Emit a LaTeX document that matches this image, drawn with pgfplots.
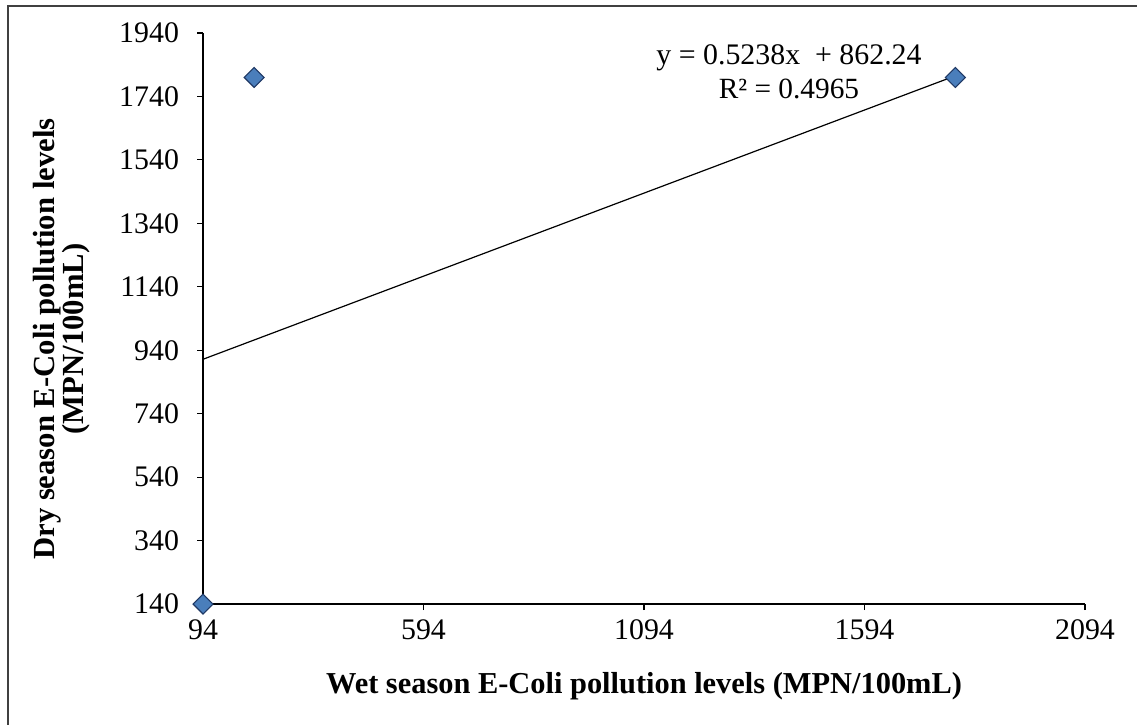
\documentclass[border=0pt]{standalone}
\usepackage{pgfplots}
\pgfplotsset{compat=1.18}
\usepackage{fontspec}
\setmainfont{Liberation Serif}
\definecolor{mfill}{RGB}{74,126,187}
\definecolor{mdraw}{RGB}{31,56,100}
\definecolor{frame}{RGB}{64,64,64}
\begin{document}
\begin{tikzpicture}
\useasboundingbox (0,0) rectangle (852.75pt,-543pt);
\draw[frame, line width=1.5pt] (6pt,-545pt) -- (6pt,-4.5pt) -- (855pt,-4.5pt);
\begin{axis}[
  at={(152.25pt,-453pt)}, anchor=south west,
  scale only axis, width=661.5pt, height=428.25pt,
  xmin=94, xmax=2094, ymin=140, ymax=1940,
  axis x line*=bottom, axis y line*=left,
  axis line style={-, black, line width=0.9pt},
  xtick={94,594,1094,1594,2094},
  ytick={140,340,540,740,940,1140,1340,1540,1740,1940},
  tick align=outside, major tick length=4.5pt,
  tick style={black, line width=0.9pt},
  /pgf/number format/1000 sep={},
  /pgf/number format/assume math mode=true,
  ticklabel style={font=\fontsize{22.4}{26}\selectfont},
  xticklabel style={yshift=-4pt},
  yticklabel style={xshift=-10pt},
  clip=false,
  xlabel={Wet season E-Coli pollution levels (MPN/100mL)},
  xlabel style={at={(rel axis cs:0.5,-0.1436)}, anchor=center, font=\bfseries\fontsize{22.8}{26}\selectfont},
  ylabel={Dry season E-Coli pollution levels\\(MPN/100mL)},
  ylabel style={at={(rel axis cs:-0.160,0.464)}, anchor=center, rotate=0, align=center, font=\bfseries\fontsize{23}{19.5}\selectfont},
]
\addplot[only marks, mark=square*, mark size=5.3pt, mark options={rotate=45, fill=mfill, draw=mdraw, line width=0.8pt}]
  coordinates {(94,140) (210,1800) (1800,1800)};
\addplot[black, line width=0.9pt, no marks]
  coordinates {(94,911.48) (1800,1805.08)};
\end{axis}
\node[font=\fontsize{22.4}{26}\selectfont] at (591.75pt,-43.5pt) {y = 0.5238x~ + 862.24};
\node[font=\fontsize{22}{26}\selectfont] at (591.75pt,-66.5pt) {R² = 0.4965};
\end{tikzpicture}
\end{document}
